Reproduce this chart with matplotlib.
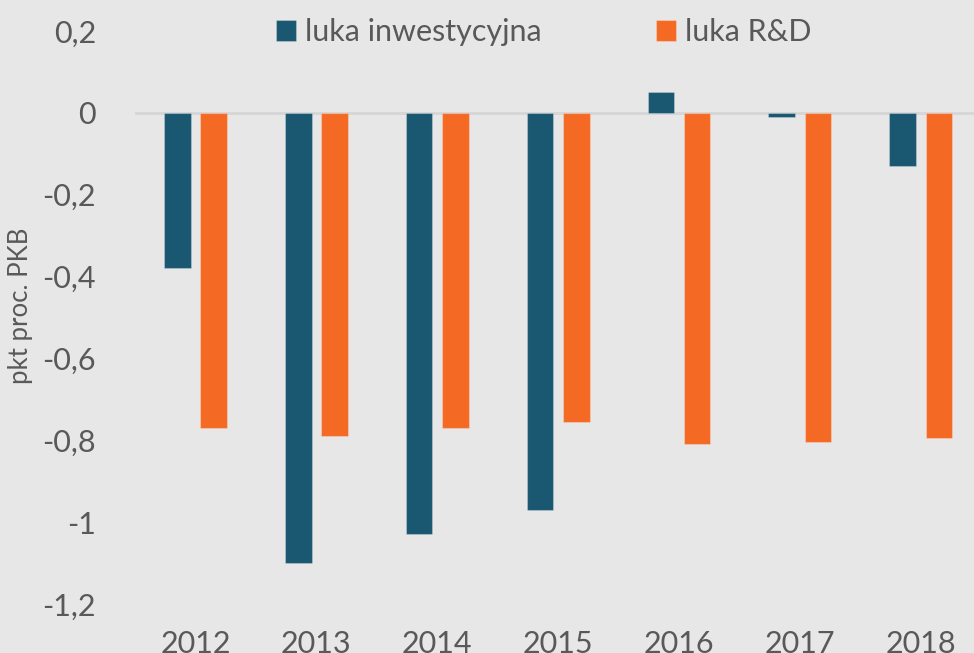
import matplotlib
matplotlib.use('Agg')
import matplotlib.pyplot as plt
import numpy as np

# Dane
lata = ['2012', '2013', '2014', '2015', '2016', '2017', '2018']
luka_inwestycyjna = [-0.38, -1.10, -1.03, -0.97, 0.05, -0.01, -0.13]
luka_rd = [-0.77, -0.79, -0.77, -0.755, -0.81, -0.805, -0.795]
y_ticks = [0.2, 0, -0.2, -0.4, -0.6, -0.8, -1.0, -1.2]

plt.rcParams['font.family'] = ['Lato', 'DejaVu Sans']

tlo = '#e7e7e7'
teal = '#1a5770'
orange = '#f46a25'
szary = '#595959'

fig = plt.figure(figsize=(9.74, 6.53), dpi=100, facecolor=tlo)
ax = fig.add_axes([135 / 974, 1 - 604 / 653, 1 - 135 / 974, (604 - 31) / 653])
ax.set_facecolor(tlo)

x = np.arange(len(lata))
w = 0.22
ax.bar(x - 0.15, luka_inwestycyjna, w, color=teal, label='luka inwestycyjna',
       edgecolor=(1, 1, 1, 0.25), linewidth=0.8, zorder=3)
ax.bar(x + 0.15, luka_rd, w, color=orange, label='luka R&D',
       edgecolor=(1, 1, 1, 0.25), linewidth=0.8, zorder=3)

ax.axhline(0, color='#d6d6d6', linewidth=2, zorder=2)

ax.set_xlim(-0.5, 6.44)
ax.set_ylim(-1.2, 0.2)
ax.set_yticks(y_ticks)
ax.set_yticklabels([('%g' % v).replace('.', ',') for v in y_ticks])
ax.set_xticks(x)
ax.set_xticklabels(lata)
ax.tick_params(axis='both', length=0, labelsize=22, colors=szary)
ax.tick_params(axis='y', pad=28)
ax.tick_params(axis='x', pad=19)
for s in ax.spines.values():
    s.set_visible(False)

ax.set_ylabel('pkt proc. PKB', fontsize=18.5, color=szary)
ax.yaxis.set_label_coords(-0.122, 0.52)

ax.legend(loc='upper center', bbox_to_anchor=(0.487, 1.07), ncol=2, frameon=False,
          fontsize=22, labelcolor=szary, handlelength=0.65, handleheight=0.65,
          handletextpad=0.3, columnspacing=3.75)

fig.savefig('out.png', dpi=100, facecolor=tlo)
